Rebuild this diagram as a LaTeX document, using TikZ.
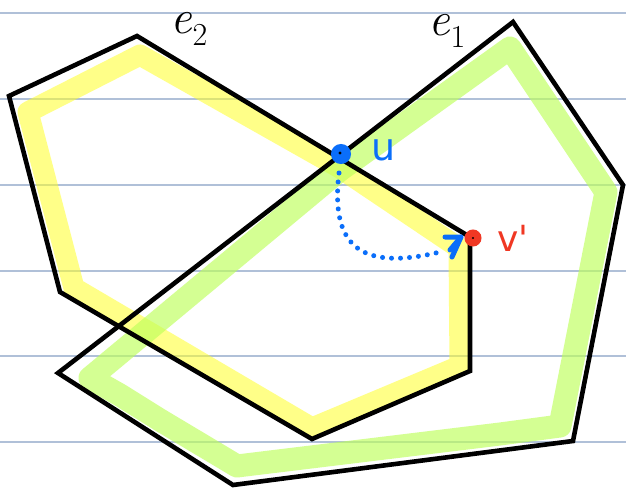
\documentclass[tikz,border=0pt]{standalone}
\usepackage{fontspec}
\newfontfamily\handfont{DejaVu Sans}
\usetikzlibrary{arrows.meta}
\definecolor{rule}{RGB}{176,192,216}
\definecolor{hlyellow}{RGB}{255,255,40}
\definecolor{hlgreen}{RGB}{190,255,90}
\definecolor{ublue}{RGB}{10,110,250}
\definecolor{vred}{RGB}{240,55,35}
\tikzset{
  ruleline/.style={rule, line width=1.2pt},
  edgeline/.style={black, line width=4.6pt, line join=miter},
  yhl/.style={hlyellow, opacity=0.55, line width=21pt, line join=round, line cap=round},
  ghl/.style={hlgreen, opacity=0.65, line width=23pt, line join=round, line cap=round},
  dotpt/.style={circle, inner sep=0pt, minimum size=16pt, line width=4pt},
  lbl/.style={inner sep=0pt, font=\fontsize{48}{48}\selectfont},
}
\newcommand{\elabel}[1]{\textit{e}\raisebox{-0.25em}{\fontsize{32}{32}\selectfont #1}}
\begin{document}
\begin{tikzpicture}[x=1pt,y=-1pt]
\useasboundingbox (0,0) rectangle (626,492);
\fill[white] (0,0) rectangle (626,492);
% ruled lines
\foreach \yy in {13,99,185,271,356,442}
  \draw[ruleline] (0,\yy) -- (626,\yy);
% highlights
\draw[yhl] (28,112) -- (140,55) -- (340,168) -- (459,248) -- (460,366) -- (312,428) -- (74,288) -- cycle;
\draw[ghl] (510,48) -- (606,192) -- (560,426) -- (500,434) -- (237,466) -- (160,420) -- (120,395) -- (90,378) -- (340,170) -- cycle;
% polygons
\coordinate (a1) at (9,96);
\coordinate (a2) at (137,36);
\coordinate (a3) at (470,237);
\coordinate (a4) at (470,371);
\coordinate (a5) at (312,439);
\coordinate (a6) at (60,292);
\draw[edgeline] (a1) -- (a2) -- (a3) -- (a4) -- (a5) -- (a6) -- cycle;
\coordinate (b1) at (513,22);
\coordinate (b2) at (623,185);
\coordinate (b3) at (573,441);
\coordinate (b4) at (233,485);
\coordinate (b5) at (58,373);
\draw[edgeline] (b1) -- (b2) -- (b3) -- (b4) -- (b5) -- cycle;
% points
\node[dotpt, draw=ublue, fill=ublue] (u) at (341,154) {};
\fill[black] (u.center) ++(-1,-1) circle (1.6pt);
\node[dotpt, draw=vred, fill=vred, minimum size=13pt] (v) at (473,238) {};
\fill[black] (v.center) circle (1.2pt);
% dotted arc
\coordinate (s) at (339,173);
\coordinate (t) at (444,251);
\draw[ublue, line width=5pt, line cap=round, dash pattern=on 0pt off 9pt]
  (s) .. controls (330,248) and (362,272) .. (t);
\coordinate (tip) at (461,237);
\draw[ublue, line width=5pt, line cap=round, line join=round] (445,237) -- (tip) -- (452,257);
\draw[ublue, line width=5pt, line cap=round] (tip) -- (450,250);
% labels
\node[lbl] (e2) at (189,29) {\elabel{2}};
\node[lbl] (e1) at (447,31) {\elabel{1}};
\node[lbl, text=ublue, font=\handfont\fontsize{38}{38}\selectfont] (ul) at (384,150) {u};
\node[lbl, text=vred, font=\handfont\fontsize{36}{36}\selectfont] (vl) at (513,238) {v\textquotesingle};
\end{tikzpicture}
\end{document}
